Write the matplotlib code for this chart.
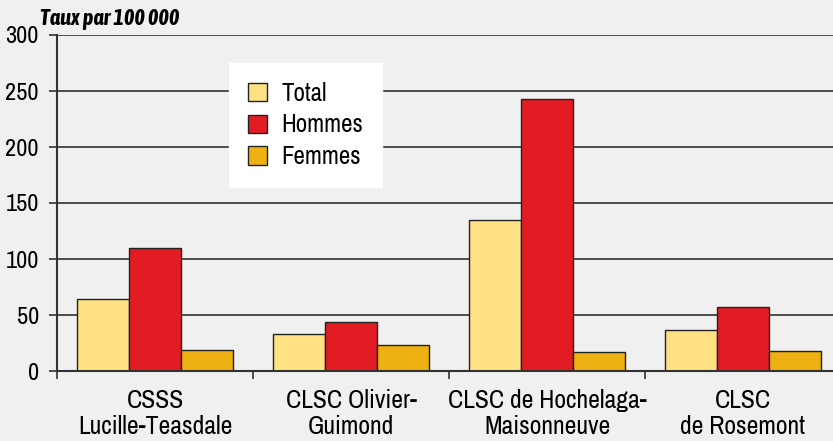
import matplotlib.pyplot as plt
import numpy as np

plt.rcParams['font.family'] = ['Archivo Narrow', 'DejaVu Sans']

categories = ['CSSS\nLucille-Teasdale', 'CLSC Olivier-\nGuimond',
              'CLSC de Hochelaga-\nMaisonneuve', 'CLSC\nde Rosemont']
total = [64, 33, 135, 37]
hommes = [110, 44, 243, 57]
femmes = [19, 23, 17, 18]
series_names = ['Total', 'Hommes', 'Femmes']
colors = ['#FFE184', '#E31C23', '#EDB113']
yticks = [0, 50, 100, 150, 200, 250, 300]

bg = '#F0F0F0'
dark = '#333333'

fig = plt.figure(figsize=(8.33, 4.41), dpi=100, facecolor=bg)
ax = fig.add_axes([57 / 833, 70 / 441, 784 / 833, 336 / 441])
ax.set_facecolor(bg)

x = np.arange(len(categories))
w = 0.265
for k, (vals, name, c) in enumerate(zip([total, hommes, femmes], series_names, colors)):
    ax.bar(x + (k - 1) * w, vals, w, color=c, edgecolor='#222222',
           linewidth=1.0, label=name, zorder=3)

ax.set_xlim(-0.5, len(categories) - 0.5)
ax.set_ylim(0, 300)
ax.set_yticks(yticks)
ax.set_yticklabels([str(v) for v in yticks], fontsize=17.5)
ax.yaxis.grid(True, color=dark, linewidth=1.2, zorder=0)
ax.tick_params(axis='y', length=6, width=1.2, color=dark, pad=7)

ax.set_xticks(np.arange(-0.5, len(categories), 1.0))
ax.set_xticklabels([])
ax.tick_params(axis='x', which='major', length=6, width=1.2, color=dark)
ax.set_xticks(x, minor=True)
ax.set_xticklabels(categories, minor=True, fontsize=18.5, linespacing=1.17)
ax.tick_params(axis='x', which='minor', length=0, pad=13)

for s in ['top', 'right']:
    ax.spines[s].set_visible(False)
ax.spines['left'].set_color(dark)
ax.spines['left'].set_linewidth(1.5)
ax.spines['bottom'].set_color(dark)
ax.spines['bottom'].set_linewidth(1.5)
ax.spines['bottom'].set_zorder(4)

fig.text(40 / 833, 1 - 25 / 441, 'Taux par 100 000', fontsize=16,
         family=['Asap Condensed', 'DejaVu Sans'],
         fontweight='bold', fontstyle='italic', ha='left', va='baseline')

leg = ax.legend(loc='upper left', bbox_to_anchor=(229 / 833, 1 - 63 / 441),
                bbox_transform=fig.transFigure, frameon=True, fancybox=False,
                fontsize=18, handlelength=0.75, handleheight=0.75,
                handletextpad=0.6, labelspacing=0.35, borderpad=0.75,
                borderaxespad=0)
leg.get_frame().set_facecolor('white')
leg.get_frame().set_edgecolor('white')
leg.get_frame().set_alpha(1)
leg.set_zorder(5)

fig.savefig('out.png', dpi=100, facecolor=bg)
